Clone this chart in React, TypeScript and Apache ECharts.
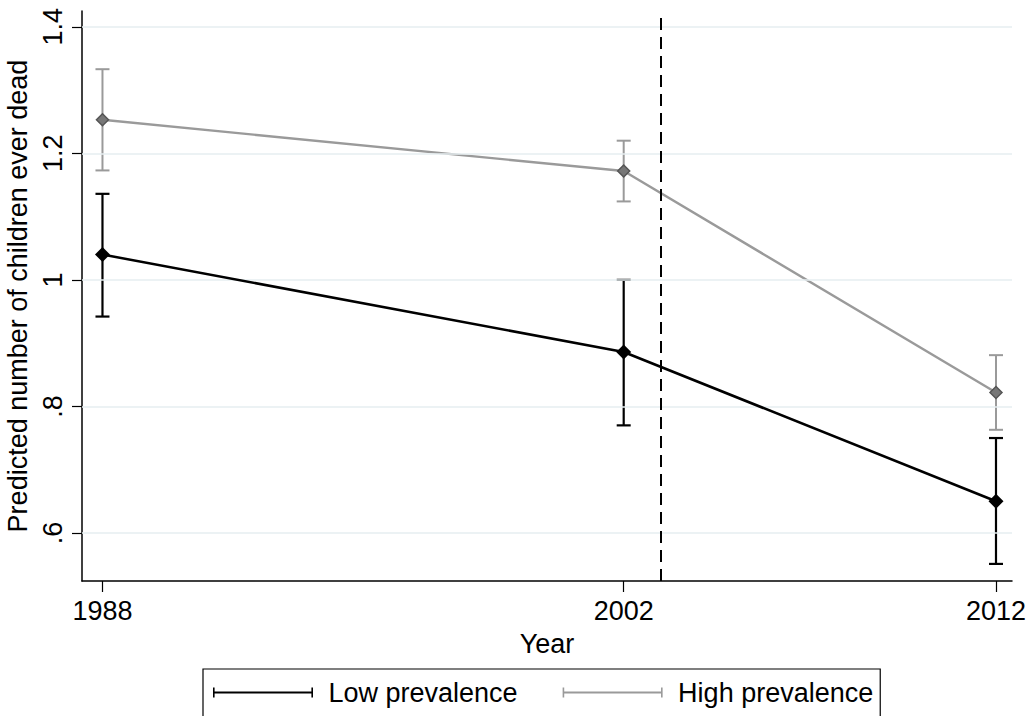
import React, { useEffect, useRef } from "react";
import * as echarts from "echarts";

const years = [1988, 2002, 2012];
const lowMean = [1.04, 0.886, 0.65];
const lowLower = [0.942, 0.77, 0.551];
const lowUpper = [1.136, 1.0, 0.75];
const highMean = [1.253, 1.172, 0.822];
const highLower = [1.173, 1.124, 0.763];
const highUpper = [1.333, 1.22, 0.881];
const cutoffYear = 2003;
const yTicks = [0.6, 0.8, 1.0, 1.2, 1.4];
const xTicks = [1988, 2002, 2012];

const LOW_NAME = "Low prevalence";
const HIGH_NAME = "High prevalence";
const FONT = "'Liberation Sans', Arial, Helvetica, sans-serif";
const FS = 27;

const capIcon =
  "path://M0,4 L100,4 L100,6 L0,6 Z M0,0 L1.6,0 L1.6,10 L0,10 Z M98.4,0 L100,0 L100,10 L98.4,10 Z";

function errorBarSeries(name: string, lo: number[], hi: number[], color: string, width: number) {
  return {
    type: "custom",
    name,
    z: 3,
    itemStyle: { color },
    data: years.map((y, i) => [y, lo[i], hi[i]]),
    encode: { x: 0, y: [1, 2] },
    renderItem: (params: any, api: any) => {
      const x = api.value(0);
      const pLo = api.coord([x, api.value(1)]);
      const pHi = api.coord([x, api.value(2)]);
      const half = 7;
      const style = { stroke: color, lineWidth: width };
      return {
        type: "group",
        children: [
          { type: "line", shape: { x1: pLo[0], y1: pLo[1], x2: pHi[0], y2: pHi[1] }, style },
          { type: "line", shape: { x1: pLo[0] - half, y1: pLo[1], x2: pLo[0] + half, y2: pLo[1] }, style },
          { type: "line", shape: { x1: pHi[0] - half, y1: pHi[1], x2: pHi[0] + half, y2: pHi[1] }, style },
        ],
      };
    },
  };
}

export default function App() {
  const ref = useRef<HTMLDivElement>(null);
  useEffect(() => {
    if (!ref.current) return;
    const chart = echarts.init(ref.current, undefined, { renderer: "svg" });
    const option: any = {
      animation: false,
      backgroundColor: "#ffffff",
      textStyle: { fontFamily: FONT },
      grid: { left: 82, right: 19, top: 11, bottom: 135, containLabel: false, outerBoundsMode: "none" },
      xAxis: {
        type: "value",
        min: 1987.45,
        max: 2012.43,
        name: "Year",
        nameLocation: "middle",
        nameGap: 49,
        nameTextStyle: { fontFamily: FONT, fontSize: FS, color: "#000" },
        axisLine: { show: true, onZero: false, lineStyle: { color: "#000", width: 1.5 } },
        axisTick: { show: true, length: 11, customValues: xTicks, lineStyle: { color: "#000", width: 1.2 } },
        axisLabel: {
          customValues: xTicks,
          margin: 16,
          fontFamily: FONT,
          fontSize: FS,
          color: "#000",
          formatter: (v: number) => String(Math.round(v)),
        },
        splitLine: { show: false },
      },
      yAxis: {
        type: "value",
        min: 0.524,
        max: 1.425,
        name: "Predicted number of children ever dead",
        nameLocation: "middle",
        nameRotate: 90,
        nameGap: 44,
        nameTextStyle: { fontFamily: FONT, fontSize: FS, color: "#000" },
        axisLine: { show: true, onZero: false, lineStyle: { color: "#000", width: 1.5 } },
        axisTick: { show: true, length: 10, customValues: yTicks, lineStyle: { color: "#000", width: 1.2 } },
        axisLabel: {
          customValues: yTicks,
          rotate: 90,
          margin: 16,
          fontFamily: FONT,
          fontSize: FS,
          color: "#000",
          formatter: (v: number) => {
            const s = String(Math.round(v * 10) / 10);
            return s.startsWith("0.") ? s.slice(1) : s;
          },
        },
        splitLine: { show: false },
      },
      legend: {
        left: 203,
        top: 669,
        orient: "horizontal",
        padding: [10, 7, 14, 10],
        borderColor: "#000",
        borderWidth: 1.2,
        itemWidth: 101,
        itemHeight: 10,
        itemGap: 45,
        selectedMode: false,
        textStyle: { fontFamily: FONT, fontSize: FS, color: "#000", padding: [0, 0, 0, 10] },
        data: [
          { name: LOW_NAME, icon: capIcon, itemStyle: { color: "#000" } },
          { name: HIGH_NAME, icon: capIcon, itemStyle: { color: "#9a9a9a" } },
        ],
      },
      series: [
        {
          type: "line",
          name: "grid",
          data: [],
          silent: true,
          z: 1,
          markLine: {
            silent: true,
            symbol: "none",
            label: { show: false },
            lineStyle: { color: "#e6eef1", width: 1.5, type: "solid" },
            data: yTicks.map((v) => ({ yAxis: v })),
          },
        },
        {
          type: "line",
          name: "cutoff",
          data: [],
          silent: true,
          z: 2,
          markLine: {
            silent: true,
            symbol: "none",
            label: { show: false },
            lineStyle: { color: "#000", width: 2, type: [12, 7] },
            data: [{ xAxis: cutoffYear }],
          },
        },
        errorBarSeries(HIGH_NAME, highLower, highUpper, "#9a9a9a", 2),
        errorBarSeries(LOW_NAME, lowLower, lowUpper, "#000", 2.2),
        {
          type: "line",
          name: HIGH_NAME,
          z: 4,
          data: years.map((y, i) => [y, highMean[i]]),
          lineStyle: { color: "#9a9a9a", width: 2.4 },
          itemStyle: { color: "#777777", borderColor: "#555555", borderWidth: 1.5 },
          symbol: "diamond",
          symbolSize: 12,
          showAllSymbol: true,
        },
        {
          type: "line",
          name: LOW_NAME,
          z: 5,
          data: years.map((y, i) => [y, lowMean[i]]),
          lineStyle: { color: "#000", width: 2.6 },
          itemStyle: { color: "#000" },
          symbol: "diamond",
          symbolSize: 15,
          showAllSymbol: true,
        },
      ],
    };
    chart.setOption(option);
    return () => chart.dispose();
  }, []);
  return (
    <div
      ref={ref}
      style={{ position: "fixed", left: 0, top: 0, width: 1031, height: 716, background: "#fff" }}
    />
  );
}
